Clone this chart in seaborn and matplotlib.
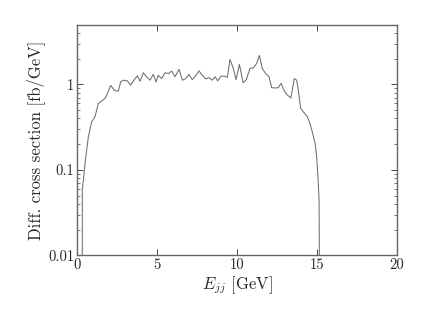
import numpy as np
import pandas as pd
import seaborn as sns
import matplotlib
matplotlib.use("Agg")
import matplotlib.pyplot as plt
from matplotlib.ticker import FixedLocator, FuncFormatter, LogLocator, NullFormatter

energy = [0.33, 0.33, 0.40, 0.50, 0.71, 0.92, 1.125, 1.33, 1.54, 1.75, 1.90, 2.10, 2.375, 2.58,
          2.73, 2.90, 3.15, 3.35, 3.56, 3.77, 3.94, 4.15, 4.35, 4.56, 4.77, 4.94, 5.08, 5.29,
          5.50, 5.71, 5.92, 6.125, 6.375, 6.58, 6.79, 7.00, 7.20, 7.40, 7.625, 7.83, 8.04,
          8.25, 8.46, 8.625, 8.79, 9.00, 9.20, 9.40, 9.56, 9.77, 9.94, 10.15, 10.38, 10.58,
          10.81, 11.02, 11.23, 11.40, 11.58, 11.79, 12.00, 12.17, 12.37, 12.58, 12.75, 12.96,
          13.15, 13.37, 13.58, 13.73, 13.83, 13.98, 14.19, 14.40, 14.56, 14.73, 14.88, 14.98,
          15.06, 15.13, 15.20]
xsec = [1e-4, 0.058, 0.076, 0.119, 0.244, 0.366, 0.418, 0.598, 0.638, 0.685, 0.784, 0.973,
        0.843, 0.835, 1.07, 1.12, 1.10, 0.98, 1.12, 1.26, 1.09, 1.37, 1.23, 1.12, 1.31, 1.07,
        1.28, 1.17, 1.37, 1.34, 1.43, 1.23, 1.50, 1.12, 1.17, 1.31, 1.14, 1.25, 1.44, 1.28,
        1.16, 1.20, 1.12, 1.23, 1.10, 1.25, 1.25, 1.21, 1.96, 1.54, 1.14, 1.72, 1.045, 1.14,
        1.54, 1.56, 1.76, 2.18, 1.54, 1.34, 1.23, 0.914, 0.91, 0.914, 1.03, 0.835, 0.75,
        0.695, 1.17, 1.12, 0.86, 0.524, 0.466, 0.418, 0.349, 0.267, 0.204, 0.142, 0.083,
        0.044, 1e-4]

x_ticks = [0, 5, 10, 15, 20]
y_ticks = [0.01, 0.1, 1]

sns.set_style("ticks")
plt.rcParams["font.family"] = ["serif"]
plt.rcParams["font.serif"] = ["cmr10", "DejaVu Serif"]
plt.rcParams["mathtext.fontset"] = "cm"
plt.rcParams["axes.unicode_minus"] = False
plt.rcParams["axes.formatter.use_mathtext"] = True

df = pd.DataFrame({"E": energy, "xs": xsec})

fig = plt.figure(figsize=(4.36, 3.10), dpi=100)
ax = fig.add_axes([77 / 436, 1 - 255.3 / 310, 320 / 436, 230.6 / 310])
sns.lineplot(data=df, x="E", y="xs", ax=ax, color="#6e6e6e", linewidth=0.75, sort=False,
             estimator=None)
ax.set_yscale("log")
ax.set_xlim(0, 20)
ax.set_ylim(0.01, 5)

ax.xaxis.set_major_locator(FixedLocator(x_ticks))
ax.xaxis.set_major_formatter(FuncFormatter(lambda v, p: "%d" % v))
ax.yaxis.set_major_locator(FixedLocator(y_ticks))
ax.yaxis.set_major_formatter(FuncFormatter(lambda v, p: "%g" % v))
ax.yaxis.set_minor_locator(LogLocator(base=10, subs=np.arange(2, 10) * 1.0, numticks=20))
ax.yaxis.set_minor_formatter(NullFormatter())

ax.tick_params(axis="both", which="both", direction="in", top=True, right=True,
               labelsize=10.5, color="#444444", pad=2)
ax.tick_params(which="major", length=4, width=0.7)
ax.tick_params(which="minor", length=2, width=0.5)
for s in ax.spines.values():
    s.set_color("#666666")
    s.set_linewidth(1.0)

ax.set_xlabel(r"$E_{jj}$ [GeV]", fontsize=12, labelpad=2)
ax.set_ylabel("Diff. cross section [fb/GeV]", fontsize=12, labelpad=2)

fig.savefig("out.png", dpi=100)
